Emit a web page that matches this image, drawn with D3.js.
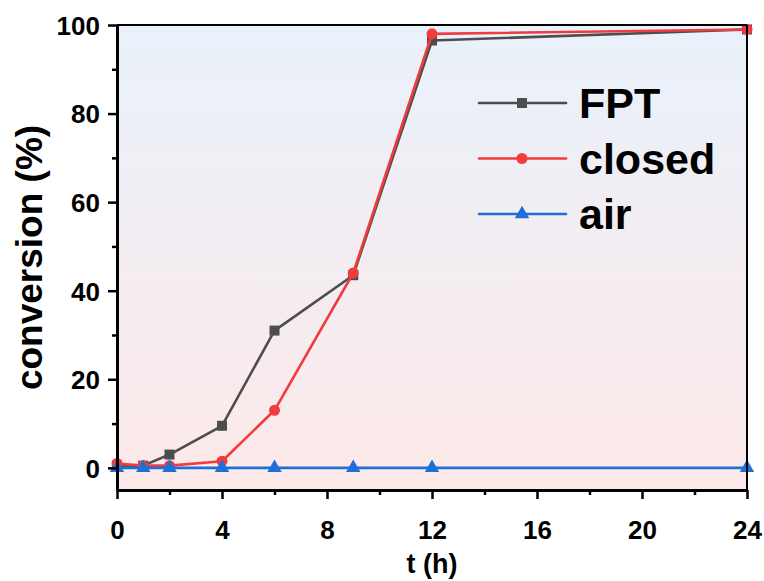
<!DOCTYPE html>
<html>
<head>
<meta charset="utf-8">
<script src="https://cdn.jsdelivr.net/npm/d3@7"></script>
<style>
  body { margin: 0; background: #fff; }
  text { font-family: "Liberation Sans", Arial, sans-serif; font-weight: bold; fill: #000; }
</style>
</head>
<body>
<div id="chart"></div>
<script>
// data
var times = [0, 1, 2, 4, 6, 9, 12, 24];
var fptData = [0.5, 0.5, 3, 9.5, 31, 43.5, 96.5, 99];
var closedData = [1, 0.5, 0.5, 1.5, 13, 44, 98, 99];
var airData = [0, 0, 0, 0, 0, 0, 0, 0];
var xTicks = [0, 4, 8, 12, 16, 20, 24];
var yTicks = [0, 20, 40, 60, 80, 100];

var series = [
  {name: "FPT", values: fptData, color: "#4d4d4d", symbol: d3.symbolSquare, size: 100},
  {name: "closed", values: closedData, color: "#f03c3e", symbol: d3.symbolCircle, size: 95},
  {name: "air", values: airData, color: "#1f6fd8", symbol: d3.symbolTriangle, size: 90}
];

var W = 764, H = 581;
var margin = {top: 25, right: 17, bottom: 91, left: 117};
var width = W - margin.left - margin.right,
    height = H - margin.top - margin.bottom;

var svg = d3.select("#chart").append("svg")
  .attr("width", W).attr("height", H);

var defs = svg.append("defs");
var grad = defs.append("linearGradient").attr("id", "bg")
  .attr("x1", 0).attr("y1", 0).attr("x2", 0).attr("y2", 1);
grad.append("stop").attr("offset", "0%").attr("stop-color", "#e9f1fa");
grad.append("stop").attr("offset", "100%").attr("stop-color", "#fde9e9");

var g = svg.append("g")
  .attr("transform", "translate(" + margin.left + "," + margin.top + ")");

var x = d3.scaleLinear().domain([0, 24]).range([0, width]);
var y = d3.scaleLinear().domain([-5, 100]).range([height, 0]);

g.append("rect").attr("width", width).attr("height", height).attr("fill", "url(#bg)");

// lines + markers
var line = d3.line()
  .x(function(d, i) { return x(times[i]); })
  .y(function(d) { return y(d); });

series.forEach(function(s) {
  g.append("path").datum(s.values)
    .attr("fill", "none")
    .attr("stroke", s.color)
    .attr("stroke-width", 2.6)
    .attr("stroke-linejoin", "round")
    .attr("d", line);
  g.selectAll(null).data(s.values).enter().append("path")
    .attr("transform", function(d, i) { return "translate(" + x(times[i]) + "," + y(d) + ")"; })
    .attr("d", d3.symbol().type(s.symbol).size(s.size))
    .attr("fill", s.color);
});

// frame: top and right
g.append("line").attr("x1", 0).attr("x2", width).attr("y1", 0).attr("y2", 0)
  .attr("stroke", "#000").attr("stroke-width", 2);
g.append("line").attr("x1", width).attr("x2", width).attr("y1", 0).attr("y2", height)
  .attr("stroke", "#000").attr("stroke-width", 2);

// minor ticks
var xMinor = [2, 6, 10, 14, 18, 22];
var yMinor = [10, 30, 50, 70, 90];
g.append("g").attr("transform", "translate(0," + height + ")")
  .call(d3.axisBottom(x).tickValues(xMinor).tickSize(5).tickFormat(""))
  .call(function(a) { a.select(".domain").remove(); a.selectAll("line").attr("stroke-width", 2.5); });
g.append("g")
  .call(d3.axisLeft(y).tickValues(yMinor).tickSize(5).tickFormat(""))
  .call(function(a) { a.select(".domain").remove(); a.selectAll("line").attr("stroke-width", 2.5); });

// major axes
var xAxis = g.append("g").attr("transform", "translate(0," + height + ")")
  .call(d3.axisBottom(x).tickValues(xTicks).tickSize(9).tickSizeOuter(0).tickPadding(22));
var yAxis = g.append("g")
  .call(d3.axisLeft(y).tickValues(yTicks).tickSize(9).tickSizeOuter(0).tickPadding(8));
[xAxis, yAxis].forEach(function(a) {
  a.select(".domain").attr("stroke-width", 3);
  a.selectAll(".tick line").attr("stroke-width", 2.5);
  a.selectAll(".tick text").style("font-size", "26px")
    .style("font-family", "'Liberation Sans', Arial, sans-serif").style("font-weight", "bold");
});
yAxis.selectAll(".tick text").attr("dy", "0.36em");

// axis titles
svg.append("text")
  .attr("x", margin.left + width / 2).attr("y", 573)
  .attr("text-anchor", "middle").style("font-size", "27px")
  .text("t (h)");
svg.append("text")
  .attr("transform", "translate(42," + (margin.top + height / 2) + ") rotate(-90)")
  .attr("text-anchor", "middle").style("font-size", "37px")
  .text("conversion (%)");

// legend
var legend = svg.append("g").attr("transform", "translate(479,103)");
series.forEach(function(s, i) {
  var row = legend.append("g").attr("transform", "translate(0," + (i * 55.5) + ")");
  row.append("line").attr("x1", 0).attr("x2", 87).attr("y1", 0).attr("y2", 0)
    .attr("stroke", s.color).attr("stroke-width", 2.6).attr("stroke-linecap", "round");
  row.append("path").attr("transform", "translate(43,0)")
    .attr("d", d3.symbol().type(s.symbol).size(s.size)).attr("fill", s.color);
  row.append("text").attr("x", 100).attr("y", 15)
    .style("font-size", "43px").text(s.name);
});
</script>
</body>
</html>
